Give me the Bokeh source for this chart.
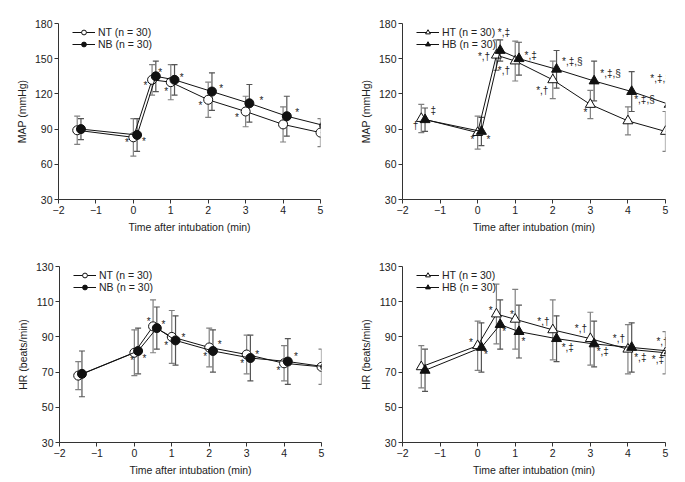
from bokeh.plotting import figure
from bokeh.models import ColumnDataSource, Whisker, TeeHead, Legend, LegendItem, FixedTicker
from bokeh.layouts import column, row
from bokeh.embed import file_html
from bokeh.resources import INLINE
from bokeh.core.properties import value

# ---------------- data ----------------
times = [-1.5, 0, 0.5, 1, 2, 3, 4, 5]
x_ticks = [-2, -1, 0, 1, 2, 3, 4, 5]
map_ticks = [30, 60, 90, 120, 150, 180]
hr_ticks = [30, 50, 70, 90, 110, 130]

map_nt = [89, 83, 132, 130, 115, 105, 94, 87]
map_nt_sd = [12, 16, 13, 15, 15, 13, 15, 12]
map_nb = [90, 85, 135, 132, 122, 112, 101, 93]
map_nb_sd = [9, 14, 13, 13, 16, 16, 17, 15]

map_ht = [99, 87, 153, 148, 132, 111, 97, 88]
map_ht_sd = [12, 14, 13, 17, 16, 12, 12, 17]
map_hb = [98, 88, 157, 150, 141, 131, 122, 111]
map_hb_sd = [10, 12, 9, 14, 16, 17, 17, 15]

hr_nt = [68, 81, 96, 90, 84, 80, 75, 73]
hr_nt_sd = [8, 13, 15, 15, 11, 11, 10, 10]
hr_nb = [69, 82, 95, 88, 82, 78, 76, 73]
hr_nb_sd = [13, 13, 12, 14, 12, 13, 13, 13]

hr_ht = [73, 85, 103, 100, 94, 89, 83, 81]
hr_ht_sd = [12, 14, 17, 17, 17, 15, 14, 12]
hr_hb = [71, 84, 97, 93, 89, 86, 84, 82]
hr_hb_sd = [12, 14, 14, 15, 13, 13, 14, 12]

# significance marks (time position, value position, text)
ann1_x = [-0.17, 0.28, 0.32, 0.72, 0.88, 1.29, 1.79, 2.35, 2.77, 3.42, 4.38]
ann1_y = [80, 81, 129, 140, 124, 136, 112, 126, 102, 116, 106]
ann1_t = ["*", "*", "*", "*", "*", "*", "*", "*", "*", "*", "*"]

ann2_x = [-1.65, -1.18, -0.14, 0.29, 0.17, 0.70, 0.70, 1.41, 1.72, 2.52, 2.87, 3.54, 4.44, 4.87]
ann2_y = [93, 106, 83, 83, 152, 172, 140, 153, 123, 148, 106, 137, 115, 133]
ann2_t = ["†", "‡", "*", "*", "*,†", "*,‡", "*,†", "*,‡", "*,†", "*,‡,§", "*", "*,‡,§", "*,‡,§", "*,‡,§"]

ann3_x = [-0.06, 0.27, 0.38, 0.78, 0.85, 1.31, 1.89, 2.28, 2.88, 3.28, 3.85, 4.32]
ann3_y = [77.5, 79, 100, 98, 86, 91, 80, 87, 76, 81, 72, 80]
ann3_t = ["*", "*", "*", "*", "*", "*", "*", "*", "*", "*", "*", "*"]

ann4_x = [-0.18, 0.22, 0.35, 0.71, 0.91, 1.22, 1.75, 2.40, 2.75, 3.33, 3.76, 4.33, 4.80, 4.92]
ann4_y = [88, 81, 106, 94, 104, 88.5, 99, 84, 95, 81.5, 89, 78.5, 77, 87.5]
ann4_t = ["*", "*", "*", "*", "*", "*", "*,†", "*,‡", "*,†", "*,‡", "*,†", "*,‡", "*,‡", "*,†"]

DODGE = 0.1
FONT = "Liberation Sans"
TXT = "#222222"
AX = "#333333"


def make_fig(fw, fh, bl, br, bt, bb, yr, yticks, ylabel):
    p = figure(frame_width=fw, frame_height=fh, x_range=(-2, 5), y_range=yr,
               output_backend="svg", toolbar_location=None,
               min_border_left=bl, min_border_right=br,
               min_border_top=bt, min_border_bottom=bb)
    p.outline_line_color = None
    p.grid.visible = False
    p.background_fill_color = "white"
    p.border_fill_color = "white"
    p.xaxis.ticker = FixedTicker(ticks=x_ticks)
    p.yaxis.ticker = FixedTicker(ticks=yticks)
    p.xaxis.major_label_overrides = {t: ("\u2212" + str(-t)) if t < 0 else str(t) for t in x_ticks}
    for ax in (p.xaxis[0], p.yaxis[0]):
        ax.axis_line_color = AX
        ax.major_tick_line_color = AX
        ax.minor_tick_line_color = None
        ax.major_tick_in = 0
        ax.major_tick_out = 4
        ax.major_label_standoff = 2
        ax.axis_label_standoff = 4
        ax.major_label_text_font = FONT
        ax.major_label_text_font_size = "10.5px"
        ax.major_label_text_color = TXT
        ax.axis_label_text_font = FONT
        ax.axis_label_text_font_size = "10.5px"
        ax.axis_label_text_font_style = "normal"
        ax.axis_label_text_color = TXT
    p.xaxis.axis_label = "Time after intubation (min)"
    p.yaxis.axis_label = ylabel
    return p


def add_series(p, xs, ys, sd, marker, fill, err_color, label):
    src = ColumnDataSource(dict(x=xs, y=ys,
                                upper=[a + b for a, b in zip(ys, sd)],
                                lower=[a - b for a, b in zip(ys, sd)]))
    w = Whisker(source=src, base="x", upper="upper", lower="lower",
                line_color=err_color, line_width=1.2,
                upper_head=TeeHead(size=6, line_color=err_color, line_width=1.2),
                lower_head=TeeHead(size=6, line_color=err_color, line_width=1.2))
    p.add_layout(w)
    ln = p.line("x", "y", source=src, line_color="#111111", line_width=1)
    sz = 9 if marker == "circle" else 10
    sc = p.scatter("x", "y", source=src, marker=marker, size=sz,
                   fill_color=fill, line_color="#111111", line_width=1)
    return LegendItem(label=label, renderers=[ln, sc])


def add_ann(p, xs, ys, ts):
    offs = [2 if t == "*" else 0 for t in ts]
    src = ColumnDataSource(dict(x=xs, y=ys, t=ts, off=offs))
    p.text("x", "y", text="t", source=src, y_offset="off",
           text_font=value(FONT), text_font_size="10px", text_color=TXT,
           text_align="center", text_baseline="middle")


def add_legend(p, items, frame_h):
    leg = Legend(items=items, location=(14, frame_h - 27), padding=0, spacing=0,
                 glyph_height=12, glyph_width=23, label_height=12, label_standoff=3,
                 border_line_color=None, background_fill_alpha=0,
                 label_text_font=FONT, label_text_font_size="10.5px",
                 label_text_color=TXT, margin=0)
    p.add_layout(leg)


t_f = [t + DODGE for t in times]

FW1, FW2 = 262, 263
FH = 176

# row 1: frame 23..199 ; row 2: frame 266..442
BT1, BB1 = 23, 37
BT2, BB2 = 30, 36

p1 = make_fig(FW1, FH, 58, 32, BT1, BB1, (30, 180), map_ticks, "MAP (mmHg)")
i1 = add_series(p1, times, map_nt, map_nt_sd, "circle", "white", "#808080", "NT (n = 30)")
i2 = add_series(p1, t_f, map_nb, map_nb_sd, "circle", "#111111", "#555555", "NB (n = 30)")
add_ann(p1, ann1_x, ann1_y, ann1_t)
add_legend(p1, [i1, i2], FH)

p2 = make_fig(FW2, FH, 50, 8, BT1, BB1, (30, 180), map_ticks, "MAP (mmHg)")
i1 = add_series(p2, times, map_ht, map_ht_sd, "triangle", "white", "#808080", "HT (n = 30)")
i2 = add_series(p2, t_f, map_hb, map_hb_sd, "triangle", "#111111", "#555555", "HB (n = 30)")
add_ann(p2, ann2_x, ann2_y, ann2_t)
add_legend(p2, [i1, i2], FH)

p3 = make_fig(FW1, FH, 59, 31, BT2, BB2, (30, 130), hr_ticks, "HR (beats/min)")
i1 = add_series(p3, times, hr_nt, hr_nt_sd, "circle", "white", "#808080", "NT (n = 30)")
i2 = add_series(p3, t_f, hr_nb, hr_nb_sd, "circle", "#111111", "#555555", "NB (n = 30)")
add_ann(p3, ann3_x, ann3_y, ann3_t)
add_legend(p3, [i1, i2], FH)

p4 = make_fig(FW2, FH, 50, 8, BT2, BB2, (30, 130), hr_ticks, "HR (beats/min)")
i1 = add_series(p4, times, hr_ht, hr_ht_sd, "triangle", "white", "#808080", "HT (n = 30)")
i2 = add_series(p4, t_f, hr_hb, hr_hb_sd, "triangle", "#111111", "#555555", "HB (n = 30)")
add_ann(p4, ann4_x, ann4_y, ann4_t)
add_legend(p4, [i1, i2], FH)

layout = column(row(p1, p2), row(p3, p4))

with open("out.html", "w") as f:
    f.write(file_html(layout, INLINE))
